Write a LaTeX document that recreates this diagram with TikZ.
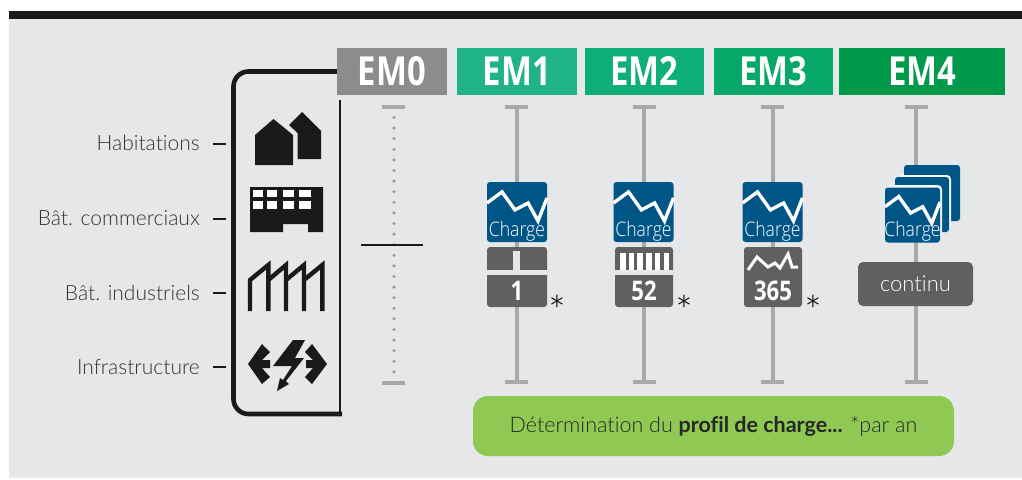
\documentclass[tikz,border=0pt]{standalone}
\usepackage{fontspec}
\setmainfont[Ligatures=NoCommon]{Lato}
\newfontfamily\lightfont[Ligatures=NoCommon]{Lato Light}
\newfontfamily\emfont[FakeStretch=0.82]{Open Sans}
\newfontfamily\chargefont[FakeStretch=0.88]{Open Sans Light}
\usetikzlibrary{positioning,calc}
\definecolor{panelgray}{HTML}{E6E7E9}
\definecolor{inkblack}{HTML}{1A1A1A}
\definecolor{railgray}{HTML}{A9A9AB}
\definecolor{boxgray}{HTML}{5F6062}
\definecolor{chargeblue}{HTML}{005587}
\definecolor{notegreen}{HTML}{8FC953}
\definecolor{emzero}{HTML}{8C8C8C}
\definecolor{emone}{HTML}{1FB387}
\definecolor{emtwo}{HTML}{0DAE78}
\definecolor{emthree}{HTML}{06A768}
\definecolor{emfour}{HTML}{009A4A}
\tikzset{
  embox/.style={minimum height=47pt,inner sep=0pt,text=white,font=\emfont\bfseries\fontsize{40}{40}\selectfont},
  sector/.style={anchor=east,inner sep=0pt,text=black!80,font=\lightfont\fontsize{21}{21}\selectfont},
  tick/.style={line width=2pt,inkblack},
  rail/.style={line width=4pt,railgray},
  railcap/.style={line width=4.6pt,railgray},
  countbox/.style={fill=boxgray,rounded corners=3pt},
  countlabel/.style={text=white,inner sep=0pt,font=\emfont\bfseries\fontsize{27}{27}\selectfont},
  chargelabel/.style={text=white,inner sep=0pt,font=\chargefont\fontsize{20}{20}\selectfont},
  starlabel/.style={inner sep=0pt,font=\lightfont\fontsize{42}{42}\selectfont}
}
% one blue card with its curve: centre x, centre y, half side
\newcommand{\chargecard}[3]{
  \begin{scope}[shift={(#1,#2)}]
  \fill[chargeblue,rounded corners=3pt] (-#3,-#3) rectangle (#3,#3);
  \draw[white,line width=3.4pt,line join=miter] (-#3,-#3*0.3) -- (-#3*0.5,-#3*0.67) -- (-#3*0.07,-#3*0.07)
    -- (#3*0.37,-#3*0.3) -- (#3*0.7,#3*0.3) -- (#3,-#3*0.47);
  \node[chargelabel] at (0,#3-11) {Charge};
  \end{scope}
}
\begin{document}
\begin{tikzpicture}[x=1pt,y=-1pt]
\useasboundingbox (0,0) rectangle (1022,479);

% background
\fill[panelgray] (9,19) rectangle (1022,478);
\fill[inkblack] (9,11) rectangle (1022,19);

% headers
\node[embox,fill=emzero,minimum width=110pt] (em0) at (392,71.5) {EM0};
\node[embox,fill=emone,minimum width=120pt] (em1) at (517,71.5) {EM1};
\node[embox,fill=emtwo,minimum width=119pt] (em2) at (644.5,71.5) {EM2};
\node[embox,fill=emthree,minimum width=119pt] (em3) at (773.5,71.5) {EM3};
\node[embox,fill=emfour,minimum width=166pt] (em4) at (922,71.5) {EM4};

% sector frame
\coordinate (framestart) at (em0.west);
\draw[line width=4.6pt,inkblack,rounded corners=15pt] (framestart) -- (233.5,71.5) -- (233.5,414) -- (342,414);
\draw[line width=2.8pt,inkblack] (340,100) -- (340,414);

% sector labels
\node[sector] (hab) at (200,143) {Habitations};
\node[sector] (com) at (200,218) {Bât. commerciaux};
\node[sector] (ind) at (200,293) {Bât. industriels};
\node[sector] (inf) at (200,367.5) {Infrastructure};
\foreach \y in {144,219,293,367}
{
\draw[tick] (213,\y) -- (226,\y);
}

% houses
\fill[inkblack] (255,165) -- (255,135) -- (273.5,119) -- (293,135) -- (293,165) -- cycle;
\fill[inkblack] (289,125) -- (302,112) -- (321,131) -- (321,159) -- (297.5,159) -- (297.5,133) -- cycle;

% commercial building
\fill[inkblack] (250,187) -- (323,187) -- (323,232) -- (308,232) -- (308,224) -- (283,224) -- (283,232) -- (250,232) -- cycle;
\foreach \x/\w in {252.7/10.6,266.7/10.6,282.7/11.3,299.3/11.7}
{
\fill[white] (\x,190) rectangle ++(\w,7);
\fill[white] (\x,201) rectangle ++(\w,8);
}

% factory
\draw[line width=4.4pt,inkblack] (250,311) -- (250,280) -- (268.3,265) -- (268.3,311);
\draw[line width=4.4pt,inkblack] (268.3,280) -- (286,265) -- (286,311);
\draw[line width=4.4pt,inkblack] (286,280) -- (304,265) -- (304,311);
\draw[line width=4.4pt,inkblack] (304,280) -- (322.3,265) -- (322.3,311);

% grid arrows
\fill[inkblack] (248,364) -- (262,344) -- (270,352) -- (262,360) -- (270,360) -- (270,368) -- (262,368) -- (270,377) -- (262,384) -- cycle;
\fill[inkblack] (327,364) -- (312,344) -- (305,352) -- (313,360) -- (306,360) -- (306,368) -- (313,368) -- (305,377) -- (312,384) -- cycle;
\fill[inkblack] (293,340) -- (305,340) -- (295,358) -- (304,358) -- (286,381) -- (289,384) -- (277,391) -- (280,378) -- (283,380) -- (292,366) -- (273,366) -- cycle;

% EM0
\draw[railcap] (382,107) -- (405,107);
\draw[railcap] (382,383) -- (405,383);
\foreach \y in {117.5,128.1,...,373}
{
\fill[railgray!90!black] (394,\y) circle (1.7pt);
}
\draw[line width=2.4pt,inkblack] (361,245) -- (423,245);

% rails
\foreach \x in {516.5,644,772.5,916}
{
\draw[railcap] (\x-11.5,107) -- (\x+11.5,107);
\draw[railcap] (\x-11.5,382) -- (\x+11.5,382);
\draw[rail] (\x,107) -- (\x,382);
}

% EM1
\chargecard{517}{212}{30}
\fill[countbox] (487,247) rectangle (547,307);
\fill[panelgray] (487,270) rectangle (547,275);
\fill[panelgray] (513,251) rectangle (520,270);
\node[countlabel] (one) at (517,291) {1};
\node[starlabel] (starone) at (557.5,311) {*};

% EM2
\chargecard{643.5}{212}{30}
\fill[countbox] (615,247) rectangle (673,307);
\fill[panelgray] (615,270) rectangle (673,275);
\foreach \x in {620,628.7,637.4,646.1,654.8,663.5}
{
\fill[white] (\x,253) rectangle ++(5.5,17);
}
\node[countlabel] (fiftytwo) at (644,291) {52};
\node[starlabel] (startwo) at (684,311) {*};

% EM3
\chargecard{772.5}{212}{30}
\fill[countbox] (744,247) rectangle (802,307);
\draw[white,line width=3pt] (748,270) -- (757,257) -- (768,267) -- (775,263) -- (780,268) -- (788,254) -- (792,267) -- (798,267);
\node[countlabel] (threesixfive) at (773,291) {365};
\node[starlabel] (starthree) at (813,311) {*};

% EM4
\fill[chargeblue,rounded corners=3pt] (904,165) rectangle (960,221);
\fill[panelgray!40!white,rounded corners=4pt] (897,175) rectangle (951,228);
\fill[chargeblue,rounded corners=3pt] (895,177) rectangle (949,232);
\fill[panelgray!40!white,rounded corners=4pt] (887,185) rectangle (942,238);
\chargecard{912.5}{215}{27.5}
\node[countbox,text=white,minimum width=115pt,minimum height=44pt,inner sep=0pt,rounded corners=5pt,font=\lightfont\fontsize{22}{22}\selectfont] (continu) at (915.5,284) {continu};

% note
\node[fill=notegreen,rounded corners=15pt,minimum width=481pt,minimum height=60pt,inner sep=0pt,text=black!85,font=\lightfont\fontsize{21.5}{21.5}\selectfont] (note) at (713.5,426) {Détermination du {\normalfont\bfseries\fontsize{21.5}{21.5}\selectfont profil de charge...} *par an};

\end{tikzpicture}
\end{document}
